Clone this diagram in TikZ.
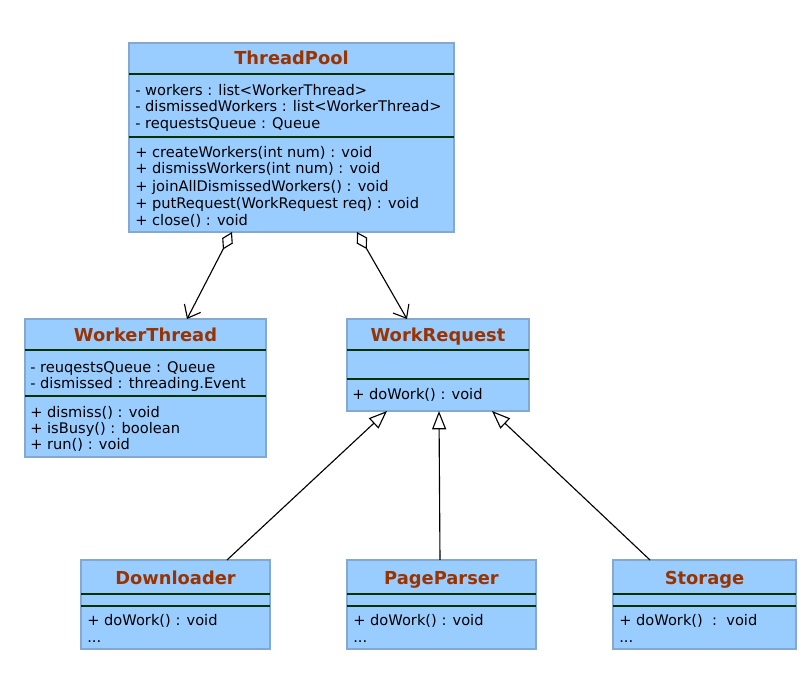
\documentclass[tikz,border=0pt]{standalone}
\usepackage{fontspec}
\setmainfont{DejaVu Sans}
\usepackage{tikz}
\usetikzlibrary{calc}
\usetikzlibrary{positioning}
\usetikzlibrary{arrows.meta}

\definecolor{boxfill}{HTML}{99CCFF}
\definecolor{boxedge}{HTML}{85A8D0}
\definecolor{titlered}{HTML}{993300}
\definecolor{sepgreen}{HTML}{003300}

\tikzset{
	cls/.style={rectangle, fill=boxfill, draw=boxedge, line width=0.9pt, inner sep=0pt, outer sep=0pt},
	ttl/.style={anchor=base, font=\fontsize{12.7}{14}\selectfont\bfseries, text=titlered, inner sep=0pt},
	mem/.style={anchor=base west, font=\fontsize{10.4}{12}\selectfont, inner sep=0pt},
	sep/.style={draw=sepgreen, line width=1.1pt},
	agg/.style={line width=0.8pt, {Diamond[open, length=14pt, width=8.5pt]}-{Straight Barb[length=8pt, width=13pt]}},
	inh/.style={line width=0.8pt, -{Triangle[open, fill=white, length=13pt, width=10pt]}}
}

\begin{document}
\begin{tikzpicture}[x=0.025cm, y=-0.025cm]
				\useasboundingbox (0,0) rectangle (811,699);
				
				% classes
				\node[cls, minimum width=8.125cm, minimum height=4.725cm] (tp) at (291.5,137.5) {};
				\node[cls, minimum width=6.025cm, minimum height=3.45cm] (wt) at (145.5,388) {};
				\node[cls, minimum width=4.55cm, minimum height=2.3cm] (wr) at (438,365) {};
				\node[cls, minimum width=4.725cm, minimum height=2.225cm] (dl) at (175.5,604.5) {};
				\node[cls, minimum width=4.725cm, minimum height=2.225cm] (pp) at (441.5,604.5) {};
				\node[cls, minimum width=4.575cm, minimum height=2.225cm] (st) at (704.5,604.5) {};
				
				% ThreadPool
				\node[ttl] (tpT) at (291.5,64.5) {ThreadPool};
				\draw[sep] ($(tp.north west)+(0,31)$) -- ($(tp.north east)+(0,31)$);
				\node[mem] (tpA1) at (135,95) {- workers : list<WorkerThread>};
				\node[mem] (tpA2) at (135,111) {- dismissedWorkers : list<WorkerThread>};
				\node[mem] (tpA3) at (135,128) {- requestsQueue : Queue};
				\draw[sep] ($(tp.north west)+(0,94)$) -- ($(tp.north east)+(0,94)$);
				\node[mem] (tpM1) at (135,157) {+ createWorkers(int num) : void};
				\node[mem] (tpM2) at (135,173) {+ dismissWorkers(int num) : void};
				\node[mem] (tpM3) at (135,191) {+ joinAllDismissedWorkers() : void};
				\node[mem] (tpM4) at (135,208) {+ putRequest(WorkRequest req) : void};
				\node[mem] (tpM5) at (135,225) {+ close() : void};
				
				% WorkerThread
				\node[ttl] (wtT) at (145.5,341) {WorkerThread};
				\draw[sep] ($(wt.north west)+(0,31)$) -- ($(wt.north east)+(0,31)$);
				\node[mem] (wtA1) at (30,372) {- reuqestsQueue : Queue};
				\node[mem] (wtA2) at (30,388) {- dismissed : threading.Event};
				\draw[sep] ($(wt.north west)+(0,77)$) -- ($(wt.north east)+(0,77)$);
				\node[mem] (wtM1) at (30,417) {+ dismiss() : void};
				\node[mem] (wtM2) at (30,433) {+ isBusy() : boolean};
				\node[mem] (wtM3) at (30,449) {+ run() : void};
				
				% WorkRequest
				\node[ttl] (wrT) at (438,341) {WorkRequest};
				\draw[sep] ($(wr.north west)+(0,31)$) -- ($(wr.north east)+(0,31)$);
				\draw[sep] ($(wr.north west)+(0,60)$) -- ($(wr.north east)+(0,60)$);
				\node[mem] (wrM1) at (352,399) {+ doWork() : void};
				
				% Downloader
				\node[ttl] (dlT) at (175.5,584) {Downloader};
				\draw[sep] ($(dl.north west)+(0,34)$) -- ($(dl.north east)+(0,34)$);
				\draw[sep] ($(dl.north west)+(0,46)$) -- ($(dl.north east)+(0,46)$);
				\node[mem] (dlM1) at (87,625) {+ doWork() : void};
				\node[mem] (dlM2) at (87,642) {...};
				
				% PageParser
				\node[ttl] (ppT) at (441.5,584) {PageParser};
				\draw[sep] ($(pp.north west)+(0,34)$) -- ($(pp.north east)+(0,34)$);
				\draw[sep] ($(pp.north west)+(0,46)$) -- ($(pp.north east)+(0,46)$);
				\node[mem] (ppM1) at (353,625) {+ doWork() : void};
				\node[mem] (ppM2) at (353,642) {...};
				
				% Storage
				\node[ttl] (stT) at (704.5,584) {Storage};
				\draw[sep] ($(st.north west)+(0,34)$) -- ($(st.north east)+(0,34)$);
				\draw[sep] ($(st.north west)+(0,46)$) -- ($(st.north east)+(0,46)$);
				\node[mem] (stM1) at (619,625) {+ doWork()\ \ :\ \ void};
				\node[mem] (stM2) at (619,642) {...};
				
				% aggregation
				\draw[agg] ($(tp.south)+(-59.5,0)$) -- ($(wt.north)+(41.5,0)$);
				\draw[agg] ($(tp.south)+(65.5,0)$) -- ($(wr.north)+(-31,0)$);
				
				% inheritance
				\draw[inh] ($(dl.north)+(51.5,0)$) -- ($(wr.south)+(-51,0)$);
				\draw[inh] ($(pp.north)+(-1.5,0)$) -- ($(wr.south)+(1,0)$);
				\draw[inh] ($(st.north)+(-54.5,0)$) -- ($(wr.south)+(54,0)$);
			\end{tikzpicture}
\end{document}
